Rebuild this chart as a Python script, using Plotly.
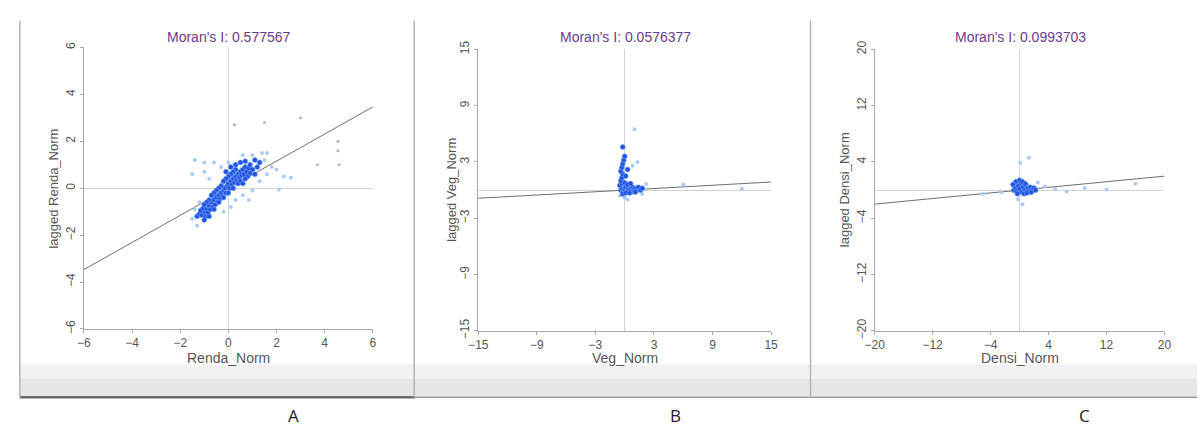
import plotly.graph_objects as go

# ---------------- data ----------------
panel_letters = ["A", "B", "C"]
x_titles = ["Renda_Norm", "Veg_Norm", "Densi_Norm"]
y_titles = ["lagged Renda_Norm", "lagged Veg_Norm", "lagged Densi_Norm"]
morans_i = [0.577567, 0.0576377, 0.0993703]
morans_txt = ["0.577567", "0.0576377", "0.0993703"]
axis_max = [6, 15, 20]
tick_vals = [[-6, -4, -2, 0, 2, 4, 6],
             [-15, -9, -3, 3, 9, 15],
             [-20, -12, -4, 4, 12, 20]]

# Panel A (Renda_Norm)
a_core_x = [-1.3, -1.2, -1.1, -1.0, -1.15, -0.95, -1.05, -0.9, -0.85, -0.8, -0.75, -0.7, -0.65, -0.6,
            -0.55, -0.5, -0.45, -0.4, -0.35, -0.3, -0.25, -0.2, -0.15, -0.1, -0.05, 0.0, 0.05, 0.1,
            0.15, 0.2, 0.25, 0.3, 0.35, 0.4, 0.45, 0.5, 0.55, 0.6, 0.65, 0.7, 0.75, 0.8, 0.85, 0.9,
            1.0, 1.1, 1.2, 0.3, 0.2, 0.1, 0.0, -0.1, -0.2, -0.3, -0.4, -0.5, -0.6, -0.7, -0.8, -0.9,
            -1.0, 0.4, 0.5, 0.6, 0.7, 0.2, 0.0, -0.2, -0.4, -0.6, -0.8, -1.0, 0.3, 0.5, 0.7, 0.1,
            -0.1, 0.9, 1.1, 1.3]
a_core_y = [-1.2, -1.1, -1.15, -1.0, -0.95, -1.2, -0.85, -0.9, -1.05, -0.75, -0.9, -0.6, -0.8, -0.5,
            -0.7, -0.4, -0.55, -0.3, -0.45, -0.2, -0.35, -0.1, 0.0, -0.2, 0.1, 0.2, 0.0, 0.3,
            0.15, 0.4, 0.25, 0.5, 0.35, 0.6, 0.45, 0.7, 0.55, 0.8, 0.6, 0.9, 0.7, 0.5, 0.85, 0.65,
            0.8, 0.6, 0.9, 0.8, 0.7, 0.6, 0.5, 0.4, 0.3, 0.1, 0.0, -0.1, -0.2, -0.3, -0.5, -0.6,
            -0.7, 0.2, 0.3, 0.2, 0.4, 0.0, -0.2, -0.4, -0.6, -0.9, -1.2, -1.35, 1.0, 1.1, 1.15, 0.9,
            0.7, 1.0, 1.2, 1.1]
a_light_x = [-1.5, -1.4, -1.2, -1.4, -1.0, -0.6, -1.5, -1.0, -0.8, -0.3, 0.0, 0.6, 1.0, 1.4, 1.6,
             1.5, 1.8, 2.0, 1.6, 2.3, 2.6, 2.1, 0.85, 1.0, 0.6, 0.3, 0.1, -0.2, 1.3, -1.3]
a_light_y = [-1.3, -0.9, -0.6, 1.2, 1.1, 1.1, 0.6, 0.7, 0.4, 0.9, 1.1, 1.4, 1.4, 1.5, 1.5,
             1.2, 0.9, 0.8, 0.6, 0.5, 0.45, -0.05, -0.5, -0.1, -0.3, -0.5, -0.8, -1.0, 0.3, -1.6]
a_out_x = [0.25, 1.5, 3.0, 4.55, 4.55, 3.7, 4.6]
a_out_y = [2.7, 2.8, 3.0, 2.0, 1.6, 1.0, 1.0]

# Panel B (Veg_Norm)
b_core_x = [-0.4, -0.3, -0.2, 0.0, 0.1, 0.2, 0.3, 0.4, 0.5, 0.6, 0.7, 0.8, 0.9, 1.0, 1.2, 1.4,
            1.6, 1.8, -0.5, -0.3, 0.0, 0.3, 0.6, -0.2, 0.1, 0.5, 1.1, -0.4,
            -0.3, -0.2, -0.4, -0.3, -0.2, -0.1, 0.0, -0.2, 0.1, 0.3]
b_core_y = [0.0, 0.2, -0.2, 0.1, 0.3, -0.1, 0.2, 0.0, 0.4, 0.1, -0.2, 0.3, 0.0, 0.2, 0.1, 0.3,
            0.0, 0.2, 0.5, 0.7, 0.8, 0.6, 0.7, -0.4, -0.3, -0.3, -0.2, 1.0,
            1.3, 1.7, 2.0, 2.4, 2.8, 3.2, 3.6, 4.6, 1.5, 2.2]
b_light_x = [1.0, 2.2, 6.0, 12.0, 1.3, 0.8, 0.0, 0.3, -0.5, 1.8]
b_light_y = [6.5, 0.65, 0.6, 0.15, 3.0, 2.6, -0.8, -1.0, -0.6, -0.4]

# Panel C (Densi_Norm)
c_core_x = [-0.8, -0.6, -0.4, -0.2, 0.0, 0.2, 0.3, 0.5, 0.7, 0.9, 1.1, 1.3, 1.5, 1.8, 2.0,
            -0.5, 0.0, 0.4, -0.9, 0.6, 1.0, -0.3, 0.8, 1.6, 2.2]
c_core_y = [0.0, 0.4, -0.2, 0.6, 0.2, 1.0, -0.3, 0.5, 0.0, 0.7, 0.2, -0.1, 0.4, 0.1, 0.3,
            1.2, 1.4, 1.2, 0.8, -0.5, -0.4, -0.5, 0.9, -0.3, 0.0]
c_light_x = [0.1, 1.3, 2.5, 4.9, 16.0, 3.5, 6.5, 9.0, 12.0, -0.2, 0.4, -2.5, -5.0]
c_light_y = [3.9, 4.6, 1.1, 0.2, 0.9, 0.5, -0.2, 0.3, 0.1, -1.3, -2.0, -0.3, -0.5]

core_x = [a_core_x, b_core_x, c_core_x]
core_y = [a_core_y, b_core_y, c_core_y]
light_x = [a_light_x, b_light_x, c_light_x]
light_y = [a_light_y, b_light_y, c_light_y]
out_x = [a_out_x, [], []]
out_y = [a_out_y, [], []]

# ---------------- layout geometry (window pixels) ----------------
W, H = 1204, 435
x_dom = [(75, 368), (475, 772), (877, 1171)]
y_dom = [(40, 333), (42, 335), (42, 335)]
letter_x = [288, 675, 1090]
ytitle_x = [44, 447, 846]


def px(v):
    return v / W


def py(v):
    return 1 - v / H


fig = go.Figure()
FONT = "Liberation Sans, Arial, sans-serif"

for i in range(3):
    xa = "x" if i == 0 else f"x{i+1}"
    ya = "y" if i == 0 else f"y{i+1}"
    m = axis_max[i]
    # regression line (slope = Moran's I)
    fig.add_trace(go.Scatter(x=[-m, m], y=[-m * morans_i[i], m * morans_i[i]], mode="lines",
                             line=dict(color="#6e6e6e", width=1), xaxis=xa, yaxis=ya,
                             showlegend=False, hoverinfo="skip"))
    fig.add_trace(go.Scatter(x=out_x[i], y=out_y[i], mode="markers",
                             marker=dict(size=3, color="#b5b5b5"), xaxis=xa, yaxis=ya,
                             showlegend=False))
    fig.add_trace(go.Scatter(x=light_x[i], y=light_y[i], mode="markers",
                             marker=dict(size=4, color="#a9cdf7", line=dict(width=0)),
                             xaxis=xa, yaxis=ya, showlegend=False))
    fig.add_trace(go.Scatter(x=core_x[i], y=core_y[i], mode="markers",
                             marker=dict(size=5, color="#2452e0", line=dict(width=0.6, color="#6fa8f5")),
                             xaxis=xa, yaxis=ya, showlegend=False))

    common = dict(range=[-m, m], tickvals=tick_vals[i], showgrid=False, zeroline=True,
                  zerolinecolor="#d2d2d2", zerolinewidth=1, showline=True, linecolor="#a8a8a8",
                  linewidth=1, ticks="outside", ticklen=3, tickcolor="#a8a8a8",
                  tickfont=dict(family=FONT, size=12, color="#555555"), fixedrange=True)
    x0, x1 = x_dom[i]
    y0, y1 = y_dom[i]
    fig.update_layout({
        ("xaxis" if i == 0 else f"xaxis{i+1}"): dict(domain=[px(x0), px(x1)], anchor=ya, **common),
        ("yaxis" if i == 0 else f"yaxis{i+1}"): dict(domain=[py(y1), py(y0)], anchor=xa,
                                                     tickangle=-90, **common),
    })
    cx = (x0 + x1) / 2
    ann = dict(xref="paper", yref="paper", showarrow=False, xanchor="center", yanchor="middle")
    fig.add_annotation(x=px(cx + 1), y=py(29), text=f"Moran's I: {morans_txt[i]}",
                       font=dict(family=FONT, size=14, color="#6a3b8c"), **ann)
    fig.add_annotation(x=px(cx), y=py(363), text=x_titles[i],
                       font=dict(family=FONT, size=14, color="#555555"), **ann)
    fig.add_annotation(x=px(ytitle_x[i]), y=py((y0 + y1) / 2), text=y_titles[i], textangle=-90,
                       font=dict(family=FONT, size=13, color="#555555"), **ann)
    fig.add_annotation(x=px(letter_x[i]), y=py(423), text=panel_letters[i],
                       font=dict(family="Open Sans, Liberation Sans, sans-serif", size=17,
                                 color="#222222"), **ann)

# window frames (decoration)
shapes = []
shapes.append(dict(type="rect", xref="paper", yref="paper", x0=px(10), x1=1, y0=py(403), y1=py(385),
                   fillcolor="#e6e6e6", line=dict(width=0), layer="below"))
shapes.append(dict(type="rect", xref="paper", yref="paper", x0=px(10), x1=1, y0=py(385), y1=py(370),
                   fillcolor="#f1f1f1", line=dict(width=0), layer="below"))
shapes.append(dict(type="line", xref="paper", yref="paper", x0=px(10), x1=px(411), y0=py(404), y1=py(404),
                   line=dict(color="#6a6a6a", width=2.5)))
shapes.append(dict(type="line", xref="paper", yref="paper", x0=px(411), x1=1, y0=py(404), y1=py(404),
                   line=dict(color="#9a9a9a", width=1.5)))
for xv in [10, 410, 812]:
    shapes.append(dict(type="line", xref="paper", yref="paper", x0=px(xv), x1=px(xv), y0=py(404),
                       y1=py(12), line=dict(color="#b4b4b4", width=1.5)))

fig.update_layout(width=W, height=H, margin=dict(l=0, r=0, t=0, b=0),
                  paper_bgcolor="white", plot_bgcolor="white", shapes=shapes, showlegend=False)

fig.write_html("out.html", config={"displayModeBar": False},
               post_script="document.body.style.margin='0';")
